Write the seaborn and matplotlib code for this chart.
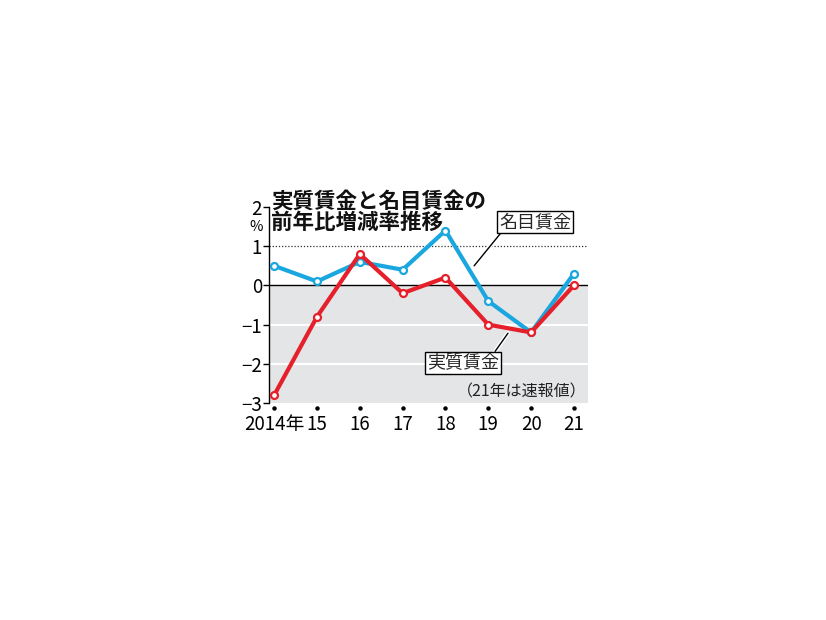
import pandas as pd
import seaborn as sns
import matplotlib.pyplot as plt
import matplotlib.patheffects as pe
from matplotlib.transforms import blended_transform_factory

sns.set_theme(style="white")
plt.rcParams["font.family"] = ["Noto Sans CJK JP", "DejaVu Sans"]
plt.rcParams["axes.unicode_minus"] = True

years = [2014, 2015, 2016, 2017, 2018, 2019, 2020, 2021]
year_labels = ["2014年", "15", "16", "17", "18", "19", "20", "21"]
nominal = [0.5, 0.1, 0.6, 0.4, 1.4, -0.4, -1.2, 0.3]
real = [-2.8, -0.8, 0.8, -0.2, 0.2, -1.0, -1.2, 0.0]
yticks = [-3, -2, -1, 0, 1, 2]

df = pd.DataFrame({"year": years * 2,
                   "value": nominal + real,
                   "series": ["名目賃金"] * len(years) + ["実質賃金"] * len(years)})

blue = "#1aa7e0"
red = "#e5202b"

fig = plt.figure(figsize=(8.26, 6.2), dpi=100)
ax = fig.add_axes([0.3257, 0.35, 0.3862, 0.3161])

# background bands
ax.axhspan(-3, 0, color="#e4e5e7", zorder=0, lw=0)
for y in [-1, -2]:
    ax.axhline(y, color="white", lw=1.5, zorder=1)
ax.axhline(1, color="#333333", lw=0.9, ls=(0, (1, 1.5)), zorder=1)
ax.axhline(0, color="black", lw=1.0, zorder=1)

sns.lineplot(ax=ax, data=df, x="year", y="value", hue="series",
             palette={"名目賃金": blue, "実質賃金": red}, lw=3,
             marker="o", markersize=5, markerfacecolor="white",
             markeredgewidth=1.6, legend=False, zorder=3)
for line, c in zip(ax.get_lines()[-2:], [blue, red]):
    line.set_markeredgecolor(c)

ax.set_xlim(2013.88, 2021.33)
ax.set_ylim(-3, 2)
ax.set(xlabel="", ylabel="")
ax.set_yticks(yticks)
ax.set_yticklabels([f"{v}".replace("-", "\u2212") for v in yticks])
ax.set_xticks(years)
ax.set_xticklabels(year_labels)
ax.tick_params(axis="y", direction="out", length=4, width=1, pad=1,
               labelsize=13.5, colors="black", left=True)
ax.tick_params(axis="x", length=0, pad=8, labelsize=13.5, colors="black")
for s in ["top", "right", "bottom"]:
    ax.spines[s].set_visible(False)
ax.spines["left"].set_color("black")
ax.spines["left"].set_linewidth(1)

# small dots under the axis
tr = blended_transform_factory(ax.transData, ax.transAxes)
ax.plot(years, [-0.027] * len(years), "o", color="black", ms=2.2,
        transform=tr, clip_on=False)

# labels with leader lines
halo = [pe.Stroke(linewidth=3, foreground="white"), pe.Normal()]
box = dict(boxstyle="square,pad=0.12", fc="white", ec="black", lw=1)
ax.annotate("名目賃金", xy=(2018.67, 0.5), xytext=(2020.09, 1.62),
            ha="center", va="center", fontsize=13, bbox=box, zorder=5,
            arrowprops=dict(arrowstyle="-", color="black", lw=1,
                            relpos=(0.05, 0), shrinkA=0, shrinkB=0,
                            path_effects=halo))
ax.annotate("実質賃金", xy=(2019.46, -1.22), xytext=(2018.41, -1.98),
            ha="center", va="center", fontsize=13, bbox=box, zorder=5,
            arrowprops=dict(arrowstyle="-", color="black", lw=1,
                            relpos=(0.92, 1), shrinkA=0, shrinkB=0,
                            path_effects=halo))

ax.text(0.995, 0.055, "（21年は速報値）", transform=ax.transAxes,
        ha="right", va="center", fontsize=11.5, color="#222222", zorder=5)

fig.text(271 / 826, 1 - 191 / 620, "実質賃金と名目賃金の\n前年比増減率推移",
         ha="left", va="top", fontsize=15.5, fontweight="bold",
         linespacing=1.02, color="#111111")
fig.text(256 / 826, 1 - 227 / 620, "%", ha="center", va="center",
         fontsize=10.5, color="black")

fig.savefig("out.png", dpi=100)
